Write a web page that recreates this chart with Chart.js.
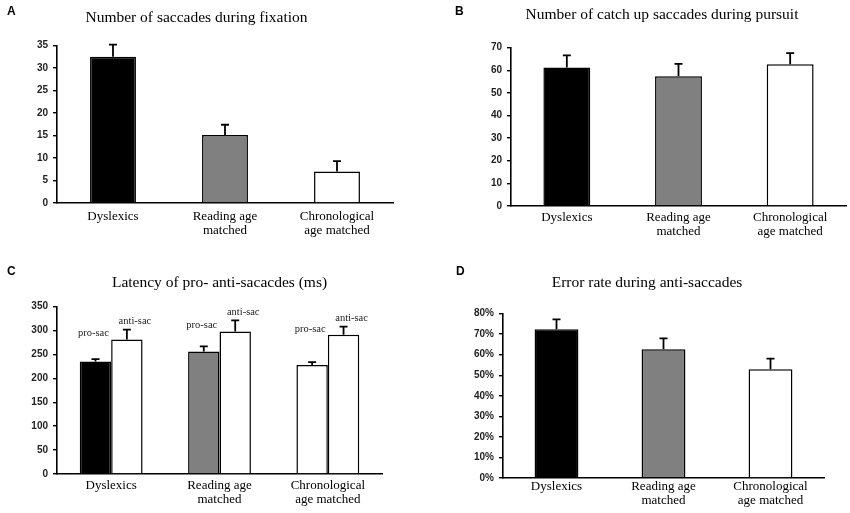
<!DOCTYPE html>
<html lang="en">
<head>
  <meta charset="UTF-8">
  <title>Saccade measures</title>
  <script src="https://cdn.jsdelivr.net/npm/chart.js"></script>
  <style>
    body { margin:0; background:#fff; }
    #wrap { position:relative; width:850px; height:513px; overflow:hidden; }
    #wrap canvas { position:absolute; }
    .tag { position:absolute; font:bold 12px 'Liberation Sans', Arial, sans-serif; color:#000; line-height:14px; }
  </style>
</head>
<body>
  <div id="wrap">
    <canvas id="chartA" width="425" height="250" style="left:0;top:0;"></canvas>
    <canvas id="chartB" width="425" height="250" style="left:425px;top:0;"></canvas>
    <canvas id="chartC" width="425" height="263" style="left:0;top:250px;"></canvas>
    <canvas id="chartD" width="425" height="263" style="left:425px;top:250px;"></canvas>
    <div class="tag" style="left:7px;top:4px;">A</div>
    <div class="tag" style="left:455px;top:4px;">B</div>
    <div class="tag" style="left:7px;top:264px;">C</div>
    <div class="tag" style="left:456px;top:264px;">D</div>
  </div>
  <script>
    // groups and their fill colours
    const groups = ['Dyslexics', ['Reading age', 'matched'], ['Chronological', 'age matched']];
    const groupColors = ['#000000', '#808080', '#ffffff'];

    // A: saccades during fixation
    const fixationMeans = [32.5, 15.1, 7.0];
    const fixationErr = [2.7, 2.3, 2.3];
    const fixationTicks = [0, 5, 10, 15, 20, 25, 30, 35];

    // B: catch up saccades during pursuit
    const pursuitMeans = [61.2, 57.3, 62.6];
    const pursuitErr = [5.4, 5.5, 5.0];
    const pursuitTicks = [0, 10, 20, 30, 40, 50, 60, 70];

    // C: latency (ms)
    const proLatency = [235, 256, 228];
    const proLatencyErr = [5, 11, 6];
    const antiLatency = [281, 298, 291];
    const antiLatencyErr = [21, 23, 17];
    const latencyTicks = [0, 50, 100, 150, 200, 250, 300, 350];

    // D: error rate (%)
    const errorRate = [72.4, 62.7, 52.9];
    const errorRateErr = [4.8, 5.2, 5.2];
    const errorRateTicks = [0, 10, 20, 30, 40, 50, 60, 70, 80];

    // upward error bars with a small cap
    const errorBars = {
      id: 'errorBars',
      afterDatasetsDraw(chart) {
        const ctx = chart.ctx;
        const y = chart.scales.y;
        chart.data.datasets.forEach((ds, i) => {
          if (!ds.errors) return;
          chart.getDatasetMeta(i).data.forEach((bar, j) => {
            const top = y.getPixelForValue(ds.data[j] + ds.errors[j]);
            ctx.save();
            ctx.strokeStyle = '#000';
            ctx.lineWidth = 1.8;
            ctx.beginPath();
            ctx.moveTo(bar.x, bar.y);
            ctx.lineTo(bar.x, top);
            ctx.moveTo(bar.x - 4, top);
            ctx.lineTo(bar.x + 4, top);
            ctx.stroke();
            ctx.restore();
          });
        });
      }
    };

    // "pro-sac" / "anti-sac" labels above the latency bars
    const barTags = {
      id: 'barTags',
      afterDatasetsDraw(chart) {
        const ctx = chart.ctx;
        const y = chart.scales.y;
        const pro = chart.getDatasetMeta(0).data;
        const anti = chart.getDatasetMeta(1).data;
        ctx.save();
        ctx.font = '10.5px "Liberation Serif", "Times New Roman", serif';
        ctx.fillStyle = '#222';
        ctx.textAlign = 'center';
        ctx.textBaseline = 'middle';
        pro.forEach((bar, j) => {
          ctx.fillText('pro-sac', bar.x - 2, y.getPixelForValue(antiLatency[j]) - 6);
        });
        anti.forEach((bar, j) => {
          ctx.fillText('anti-sac', bar.x + 8, y.getPixelForValue(antiLatency[j] + antiLatencyErr[j]) - 8);
        });
        ctx.restore();
      }
    };

    function makeChart(id, datasets, p) {
      return new Chart(document.getElementById(id), {
        type: 'bar',
        data: { labels: groups, datasets: datasets },
        plugins: p.plugins,
        options: {
          responsive: false,
          animation: false,
          events: [],
          layout: { padding: { left: p.padLeft, right: p.padRight, top: 0, bottom: 0 } },
          plugins: {
            legend: { display: false },
            tooltip: { enabled: false },
            title: {
              display: true,
              fullSize: p.titleFull !== false,
              text: p.title,
              color: '#000',
              font: { family: '"Liberation Serif", "Times New Roman", serif', size: 15.5, weight: 'normal', lineHeight: 1.2 },
              padding: { top: p.titleTop, bottom: p.titleBottom }
            }
          },
          scales: {
            x: {
              offset: true,
              grid: { display: false, drawTicks: false },
              border: { display: true, color: '#000', width: 1.6 },
              ticks: {
                color: '#000',
                autoSkip: false,
                maxRotation: 0,
                padding: p.xPad,
                font: { family: '"Liberation Serif", "Times New Roman", serif', size: 13, lineHeight: 1.12 }
              },
              afterFit: s => { s.height = p.xHeight; }
            },
            y: {
              min: 0,
              max: p.ticks[p.ticks.length - 1],
              grid: { display: true, drawOnChartArea: false, drawTicks: true, tickLength: 4, color: '#000', lineWidth: 1.4 },
              border: { display: true, color: '#000', width: 1.6 },
              ticks: {
                color: '#222',
                padding: 5,
                font: { family: '"Liberation Sans", Arial, sans-serif', size: 10, weight: 'bold' },
                callback: p.fmt || (v => v)
              },
              afterBuildTicks: s => { s.ticks = p.ticks.map(v => ({ value: v })); },
              afterFit: s => { s.width = p.yWidth; }
            }
          }
        }
      });
    }

    const barStyle = { borderColor: '#000', borderWidth: 1.5, categoryPercentage: 1 };

    makeChart('chartA', [
      Object.assign({ data: fixationMeans, errors: fixationErr, backgroundColor: groupColors, barPercentage: 0.41 }, barStyle)
    ], {
      title: 'Number of saccades during fixation', ticks: fixationTicks, plugins: [errorBars],
      padLeft: 0, padRight: 32, yWidth: 57, xHeight: 47, titleTop: 9, titleBottom: 18, xPad: 6
    });

    makeChart('chartB', [
      Object.assign({ data: pursuitMeans, errors: pursuitErr, backgroundColor: groupColors, barPercentage: 0.42 }, barStyle)
    ], {
      title: 'Number of catch up saccades during pursuit', ticks: pursuitTicks, plugins: [errorBars],
      padLeft: 53, padRight: 4, yWidth: 33, xHeight: 44, titleTop: 6, titleBottom: 23, xPad: 4
    });

    makeChart('chartC', [
      { data: proLatency, errors: proLatencyErr, backgroundColor: groupColors, borderColor: '#000', borderWidth: 1.5, categoryPercentage: 0.58, barPercentage: 1 },
      { data: antiLatency, errors: antiLatencyErr, backgroundColor: '#ffffff', borderColor: '#000', borderWidth: 1.5, categoryPercentage: 0.58, barPercentage: 1 }
    ], {
      title: 'Latency of pro- anti-sacacdes (ms)', ticks: latencyTicks, plugins: [errorBars, barTags], titleFull: false,
      padLeft: 0, padRight: 43, yWidth: 57, xHeight: 39, titleTop: 24, titleBottom: 14, xPad: 4
    });

    makeChart('chartD', [
      Object.assign({ data: errorRate, errors: errorRateErr, backgroundColor: groupColors, barPercentage: 0.41 }, barStyle)
    ], {
      title: 'Error rate during anti-saccades', ticks: errorRateTicks, plugins: [errorBars], fmt: v => v + '%',
      padLeft: 45, padRight: 26, yWidth: 33, xHeight: 35, titleTop: 24, titleBottom: 21, xPad: 1
    });
  </script>
</body>
</html>
